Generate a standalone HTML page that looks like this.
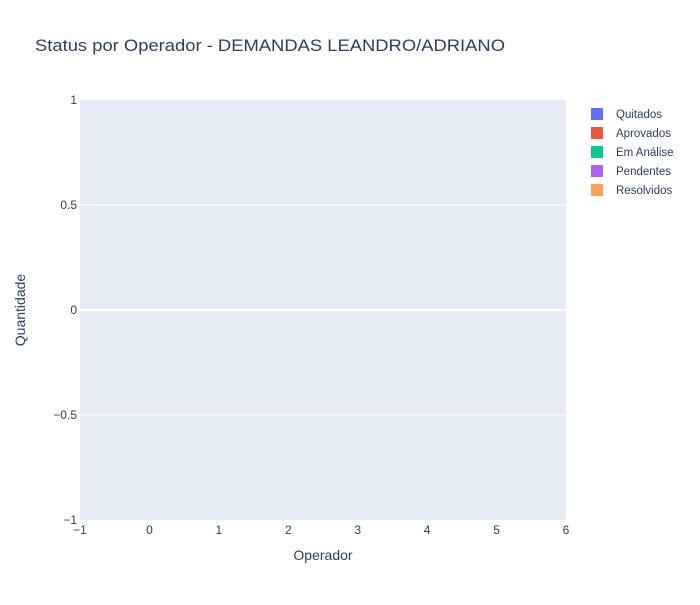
<!DOCTYPE html>
<html><head><meta charset="utf-8"><style>
body{margin:0;background:#fff;font-family:"Liberation Sans",Arial,sans-serif}
svg text{fill:#2a3f5f}
</style></head><body>
<svg id="chart" width="700" height="600">
<rect x="0" y="0" width="700" height="600" fill="#fff"/>
<text x="35" y="51" font-size="17" textLength="470" lengthAdjust="spacingAndGlyphs">Status por Operador - DEMANDAS LEANDRO/ADRIANO</text>
<rect id="plot" x="80" y="100" width="486" height="420" fill="#e5ecf6"/>
<g id="grid"></g><g id="ticks"></g><g id="legend"></g>
<text x="323" y="560" font-size="14" text-anchor="middle">Operador</text>
<text x="25" y="310" font-size="14" text-anchor="middle" transform="rotate(-90 25 310)">Quantidade</text>
</svg>
<script>
const categories = [];
const seriesNames = ["Quitados","Aprovados","Em Análise","Pendentes","Resolvidos"];
const seriesColors = ["#636efa","#EF553B","#00cc96","#ab63fa","#FFA15A"];
const xTicks = [-1,0,1,2,3,4,5,6];
const yTicks = [1,0.5,0,-0.5,-1];
const yTickLabels = ["1","0.5","0","−0.5","−1"];
const NS="http://www.w3.org/2000/svg";
const X0=80,X1=566,Y0=520,Y1=100;
const xs=v=>X0+(v+1)/7*(X1-X0);
const ys=v=>Y0-(v+1)/2*(Y0-Y1);
function mk(t,a){const e=document.createElementNS(NS,t);for(const k in a)e.setAttribute(k,a[k]);return e;}
const grid=document.getElementById('grid'),ticks=document.getElementById('ticks'),leg=document.getElementById('legend');
yTicks.forEach((v,i)=>{
  if(v!==1&&v!==-1){const l=mk('line',{x1:X0,x2:X1,y1:ys(v),y2:ys(v),stroke:'#fff','stroke-width':v===0?2:1});
  
  
  grid.appendChild(l);}
  const t=mk('text',{x:X0-3,y:ys(v)+4,'font-size':12,'text-anchor':'end'});t.textContent=yTickLabels[i];
  
  
  ticks.appendChild(t);
});
xTicks.forEach(v=>{
  const t=mk('text',{x:xs(v),y:Y0+14,'font-size':12,'text-anchor':'middle'});t.textContent=v<0?'−'+(-v):v;
  
  
  ticks.appendChild(t);
});
seriesNames.forEach((n,i)=>{
  const y=114+i*19;
  const g=mk('g',{});
  
  
  g.appendChild(mk('rect',{x:591,y:y-6,width:12,height:12,fill:seriesColors[i]}));
  const t=mk('text',{x:616,y:y+4,'font-size':11.5});t.textContent=n;g.appendChild(t);
  leg.appendChild(g);
});
</script>
</body></html>
